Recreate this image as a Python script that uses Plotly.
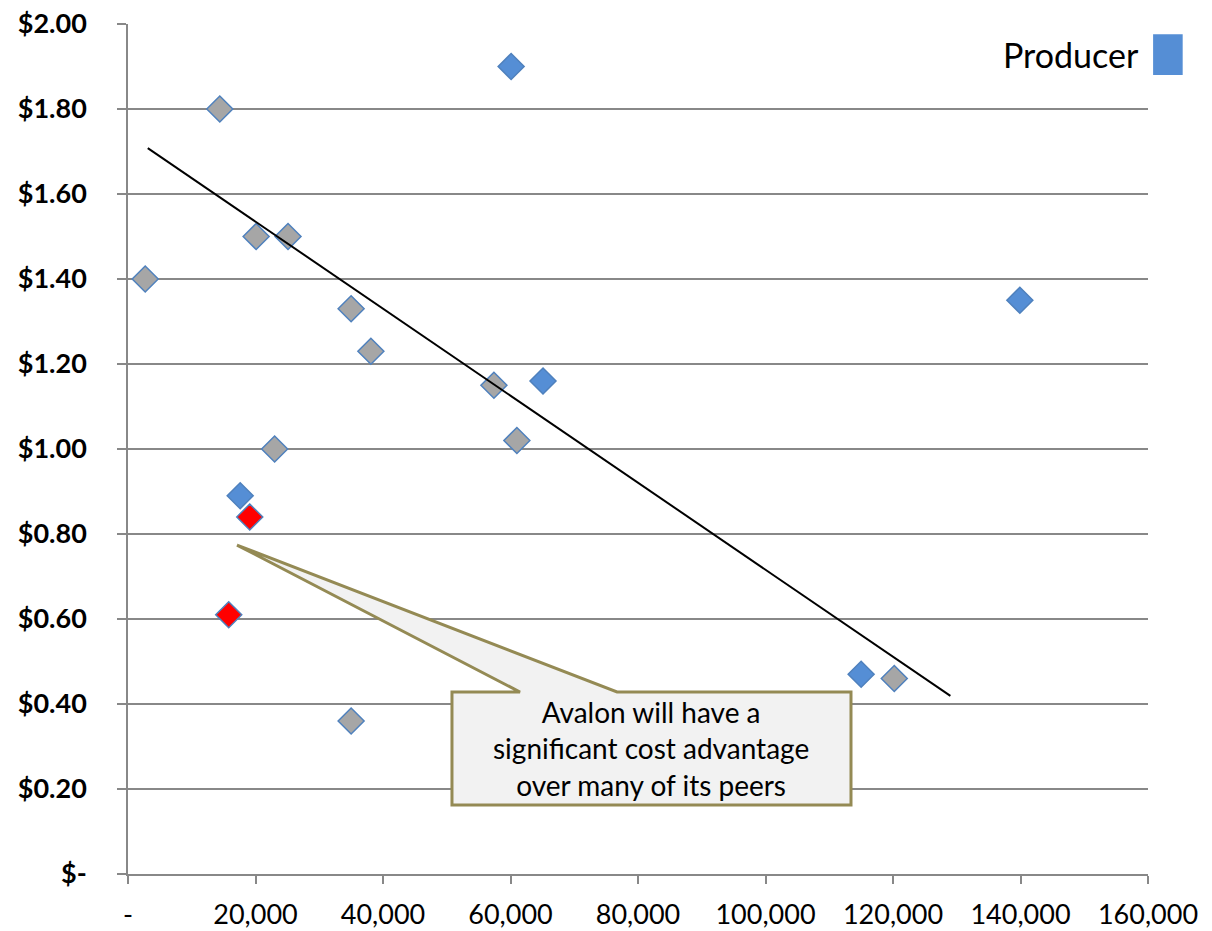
import plotly.graph_objects as go

# Producers: annual output vs. cash cost per unit
gray_x = [2700, 14400, 20100, 25100, 35000, 38100, 23000, 35000, 57400, 61000, 120200]
gray_y = [1.40, 1.80, 1.50, 1.50, 1.33, 1.23, 1.00, 0.36, 1.15, 1.02, 0.46]

blue_x = [60100, 65100, 17600, 115000, 139900]
blue_y = [1.90, 1.16, 0.89, 0.47, 1.35]

red_x = [19100, 15800]
red_y = [0.84, 0.61]

trend_x = [3100, 129000]
trend_y = [1.708, 0.419]

x_ticks = [0, 20000, 40000, 60000, 80000, 100000, 120000, 140000, 160000]
x_tick_labels = ["-", "20,000", "40,000", "60,000", "80,000", "100,000", "120,000", "140,000", "160,000"]
y_ticks = [0, 0.2, 0.4, 0.6, 0.8, 1.0, 1.2, 1.4, 1.6, 1.8, 2.0]
y_tick_labels = ["$-", "$0.20", "$0.40", "$0.60", "$0.80", "$1.00", "$1.20", "$1.40", "$1.60", "$1.80", "$2.00"]

callout_text = "Avalon will have a<br>significant cost advantage<br>over many of its peers"

BLUE = "#558ED5"
EDGE = "#4F81BD"
GRID = "#888888"
FONT = "Lato"

fig = go.Figure()

fig.add_trace(go.Scatter(
    x=gray_x, y=gray_y, mode="markers",
    marker=dict(symbol="diamond", size=20, color="#A6A6A6", line=dict(color=EDGE, width=1.5)),
    showlegend=False, cliponaxis=False,
))
fig.add_trace(go.Scatter(
    x=blue_x, y=blue_y, mode="markers",
    marker=dict(symbol="diamond", size=20, color=BLUE, line=dict(color=EDGE, width=1.5)),
    showlegend=False, cliponaxis=False,
))
fig.add_trace(go.Scatter(
    x=red_x, y=red_y, mode="markers",
    marker=dict(symbol="diamond", size=20, color="#FF0000", line=dict(color=EDGE, width=1.5)),
    showlegend=False, cliponaxis=False,
))
fig.add_trace(go.Scatter(
    x=trend_x, y=trend_y, mode="lines",
    line=dict(color="black", width=2),
    showlegend=False,
))

# Callout box with pointer wedge
bx0, bx1, by0, by1 = 50820, 113410, 0.1624, 0.4282
tipx, tipy = 17100, 0.774
wl, wr = 61490, 76710
path = (f"M {bx0},{by1} L {wl},{by1} L {tipx},{tipy} L {wr},{by1} "
        f"L {bx1},{by1} L {bx1},{by0} L {bx0},{by0} Z")
fig.add_shape(type="path", path=path, xref="x", yref="y",
              fillcolor="#F2F2F2", line=dict(color="#948A54", width=3), layer="above")
fig.add_annotation(x=(bx0 + bx1) / 2, y=(by0 + by1) / 2, xref="x", yref="y",
                   text=callout_text, showarrow=False,
                   font=dict(family=FONT, size=28, color="black"), align="center")

# Legend entry: label with swatch to its right
fig.add_annotation(x=0.993, y=0.964, xref="paper", yref="paper", xanchor="right", yanchor="middle",
                   text="Producer", showarrow=False,
                   font=dict(family=FONT, size=34, color="black"))
fig.add_shape(type="rect", xref="paper", yref="paper",
              x0=1.005, x1=1.034, y0=0.940, y1=0.988,
              fillcolor=BLUE, line=dict(width=0))

fig.update_layout(
    width=1212, height=931,
    margin=dict(l=128, r=64, t=24, b=57),
    paper_bgcolor="white", plot_bgcolor="white",
    font=dict(family=FONT, color="black"),
    xaxis=dict(
        range=[0, 160000], tickvals=x_ticks, ticktext=x_tick_labels,
        showgrid=False, zeroline=False, automargin=False,
        showline=True, linecolor=GRID, linewidth=1.5,
        ticks="outside", ticklen=8, tickcolor=GRID, tickwidth=1.5,
        ticklabelstandoff=8,
        tickfont=dict(family=FONT, size=27, color="black"),
    ),
    yaxis=dict(
        range=[0, 2.0], tickvals=y_ticks, ticktext=y_tick_labels,
        showgrid=True, gridcolor=GRID, gridwidth=1.5, zeroline=False, automargin=False,
        showline=True, linecolor=GRID, linewidth=1.5,
        ticks="outside", ticklen=9, tickcolor=GRID, tickwidth=1.5,
        ticklabelstandoff=25,
        tickfont=dict(family=FONT, size=27, color="black", weight="bold"),
    ),
)

fig.write_html("out.html")
